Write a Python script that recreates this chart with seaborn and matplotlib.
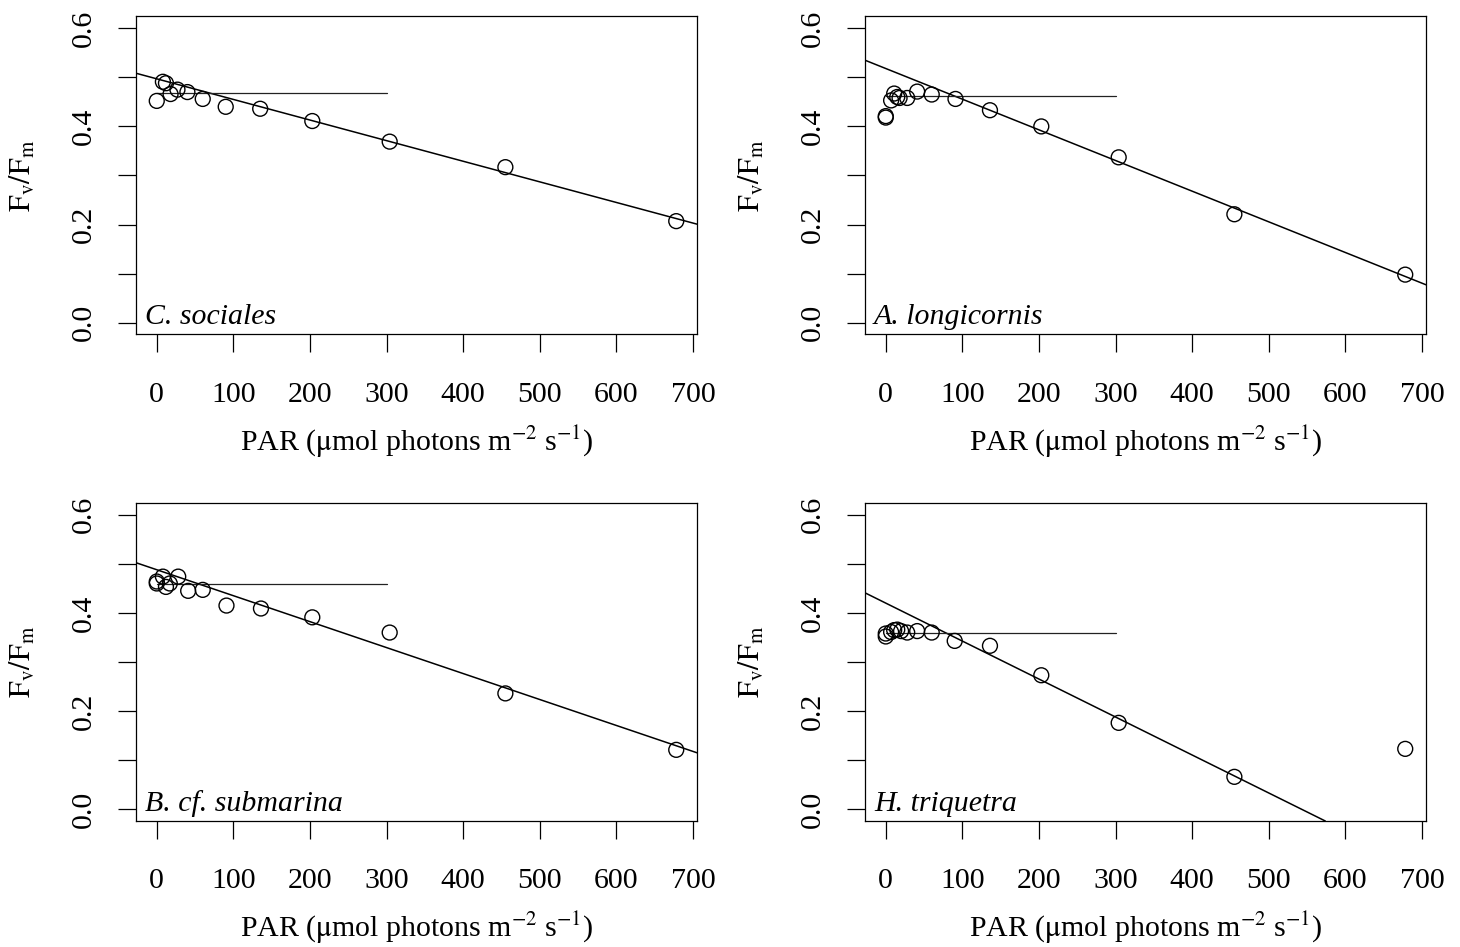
import numpy as np
import pandas as pd
import matplotlib
matplotlib.use("Agg")
import matplotlib.pyplot as plt
import seaborn as sns

# ---------------- data ----------------
species = ["C. sociales", "A. longicornis", "B. cf. submarina", "H. triquetra"]

par_c = [0, 8, 12, 18, 27, 40, 60, 90, 135, 203, 304, 455, 678]
fv_c = [0.452, 0.491, 0.488, 0.466, 0.475, 0.470, 0.456, 0.440, 0.436, 0.411, 0.369, 0.317, 0.207]

par_a = [0, 0, 7, 11, 15, 18, 28, 41, 60, 91, 136, 203, 304, 455, 678]
fv_a = [0.418, 0.421, 0.453, 0.467, 0.460, 0.458, 0.458, 0.471, 0.465, 0.456, 0.433, 0.400, 0.337, 0.221, 0.098]

par_b = [0, 0, 8, 12, 17, 28, 41, 60, 91, 136, 203, 304, 455, 678]
fv_b = [0.460, 0.464, 0.474, 0.453, 0.460, 0.474, 0.445, 0.447, 0.415, 0.409, 0.391, 0.360, 0.236, 0.121]

par_h = [0, 0, 7, 11, 15, 20, 28, 41, 60, 90, 136, 203, 304, 455, 678]
fv_h = [0.352, 0.358, 0.361, 0.365, 0.366, 0.363, 0.360, 0.363, 0.360, 0.343, 0.333, 0.273, 0.176, 0.066, 0.123]

# fitted regression lines (intercept, slope) and plateau levels
intercepts = [0.497, 0.518, 0.488, 0.420]
slopes = [-0.00042, -0.000625, -0.000529, -0.000774]
plateau = [0.469, 0.462, 0.459, 0.359]
plateau_end = 300

x_ticks = [0, 100, 200, 300, 400, 500, 600, 700]
y_ticks = [0.0, 0.1, 0.2, 0.3, 0.4, 0.5, 0.6]
y_ticklabels = ["0.0", "", "0.2", "", "0.4", "", "0.6"]

pars = [par_c, par_a, par_b, par_h]
fvs = [fv_c, fv_a, fv_b, fv_h]

# ---------------- style ----------------
sns.set_style("ticks")
plt.rcParams["font.family"] = ["Liberation Serif", "DejaVu Serif"]
plt.rcParams["mathtext.fontset"] = "stix"
plt.rcParams["axes.linewidth"] = 0.9
plt.rcParams["text.color"] = "black"
plt.rcParams["axes.labelcolor"] = "black"
plt.rcParams["xtick.color"] = "black"
plt.rcParams["ytick.color"] = "black"

W, H = 1460, 947
fig = plt.figure(figsize=(W / 100, H / 100), dpi=100)

# axes boxes in pixels: (left, top, right, bottom)
boxes = [(136, 16.5, 697, 334.5), (865, 16.5, 1426, 334.5),
         (136, 503, 697, 821), (865, 503, 1426, 821)]

FS = 21.5
for i, (l, t, r, b) in enumerate(boxes):
    ax = fig.add_axes([l / W, 1 - b / H, (r - l) / W, (b - t) / H])
    df = pd.DataFrame({"PAR": pars[i], "FvFm": fvs[i]})
    sns.scatterplot(data=df, x="PAR", y="FvFm", ax=ax, marker="o", s=115,
                    facecolors="none", edgecolors="black", linewidths=1.0,
                    zorder=3)
    ax.axline((0, intercepts[i]), slope=slopes[i], color="black", lw=1.1, zorder=2)
    ax.plot([0, plateau_end], [plateau[i], plateau[i]], color="#222222", lw=0.9, zorder=2)

    ax.set_xlim(-27.1, 705.1)
    ax.set_ylim(-0.024, 0.624)
    ax.set_xticks(x_ticks)
    ax.set_xticklabels([str(v) for v in x_ticks])
    ax.set_yticks(y_ticks)
    ax.set_yticklabels(y_ticklabels)
    ax.tick_params(axis="both", direction="out", length=13, width=0.9,
                   labelsize=FS, color="black", labelcolor="black")
    ax.tick_params(axis="x", pad=21)
    ax.tick_params(axis="y", pad=15)
    for lab in ax.get_yticklabels():
        lab.set_rotation(90)
        lab.set_va("center")
    for s in ax.spines.values():
        s.set_visible(True)
        s.set_color("black")
        s.set_linewidth(0.9)
    ax.set_xlabel("")
    ax.set_ylabel("")
    hpx = b - t
    wpx = r - l
    ax.text(0.5, -107 / hpx, r"PAR ($\mathrm{\mu}$mol photons m$^{-2}$ s$^{-1}$)",
            transform=ax.transAxes, ha="center", va="center", fontsize=FS,
            color="black")
    ax.text(-114 / wpx, 0.5, r"$\mathrm{F_v/F_m}$", transform=ax.transAxes,
            rotation=90, ha="center", va="center", fontsize=FS, color="black")
    ax.text(9 / wpx, 10 / hpx, species[i], transform=ax.transAxes,
            ha="left", va="baseline", fontsize=FS, style="italic", color="black")

fig.savefig("out.png", dpi=100)
